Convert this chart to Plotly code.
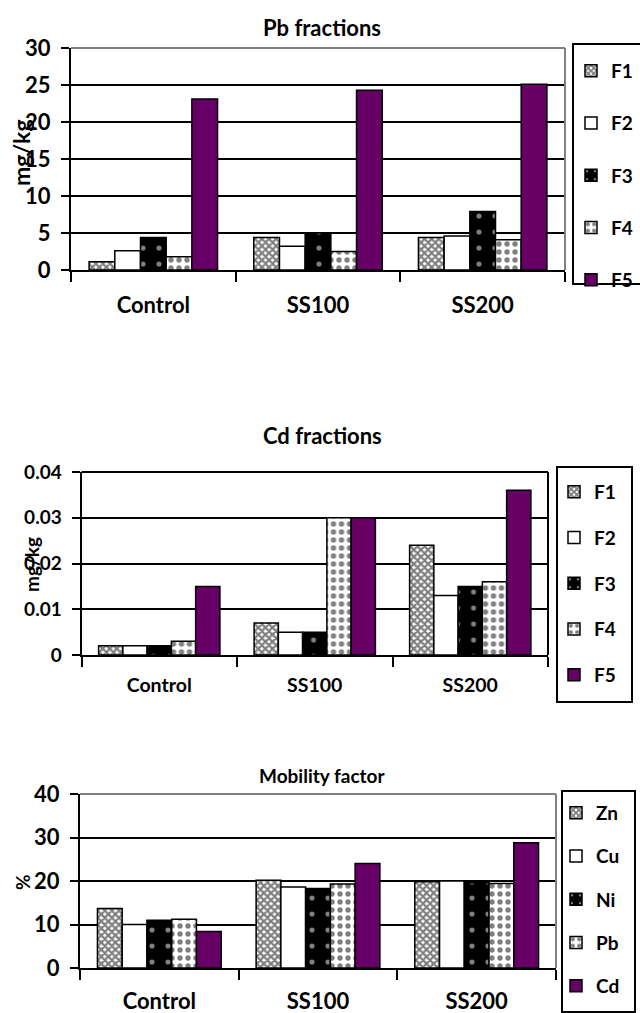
import plotly.graph_objects as go

W, H = 640, 1013

# ---- data -------------------------------------------------------------
categories = ["Control", "SS100", "SS200"]

fraction_names = ["F1", "F2", "F3", "F4", "F5"]
pb_f1 = [1.1, 4.4, 4.4]
pb_f2 = [2.6, 3.2, 4.6]
pb_f3 = [4.4, 5.0, 7.9]
pb_f4 = [1.8, 2.5, 4.1]
pb_f5 = [23.1, 24.3, 25.1]

cd_f1 = [0.002, 0.007, 0.024]
cd_f2 = [0.002, 0.005, 0.013]
cd_f3 = [0.002, 0.005, 0.015]
cd_f4 = [0.003, 0.030, 0.016]
cd_f5 = [0.015, 0.030, 0.036]

metal_names = ["Zn", "Cu", "Ni", "Pb", "Cd"]
mf_zn = [13.7, 20.2, 19.8]
mf_cu = [10.0, 18.6, 20.0]
mf_ni = [11.0, 18.3, 19.6]
mf_pb = [11.2, 19.3, 19.4]
mf_cd = [8.4, 24.0, 28.8]

# ---- styling ----------------------------------------------------------
FONT = "Lato"
PURPLE = "#660066"
GREY = "#808080"

fills = [
    dict(color="white", pattern=dict(shape="x", fgcolor="black", bgcolor="white", size=5, solidity=0.7)),
    dict(color="white"),
    dict(color="black", pattern=dict(shape=".", fgcolor="white", bgcolor="black", size=16, solidity=0.08)),
    dict(color="white", pattern=dict(shape=".", fgcolor="black", bgcolor="white", size=8, solidity=0.35)),
    dict(color=PURPLE),
]


def px_x(v):
    return v / W


def px_y(v):
    return 1 - v / H


panels = [
    dict(title="Pb fractions", ytitle="mg/kg", names=fraction_names,
         series=[pb_f1, pb_f2, pb_f3, pb_f4, pb_f5],
         x=(71, 565), y=(48, 270), yrange=[0, 30], dtick=5,
         title_y=27, title_size=22, tick_size=22, cat_size=22, leg_size=19,
         ytitle_xy=(21, 153), ytitle_size=23, border=GREY,
         legend_box=(573, 44, 648, 284), legend_x=571, legend_y=52, leg_gap=24.5,
         xstand=15),
    dict(title="Cd fractions", ytitle="mg/kg", names=fraction_names,
         series=[cd_f1, cd_f2, cd_f3, cd_f4, cd_f5],
         x=(81.5, 548), y=(472, 655), yrange=[0, 0.04], dtick=0.01,
         title_y=435, title_size=22, tick_size=19, cat_size=19.5, leg_size=19,
         ytitle_xy=(31, 565), ytitle_size=19, border="black",
         legend_box=(557, 467, 632, 702), legend_x=554, legend_y=473, leg_gap=18,
         xstand=12),
    dict(title="Mobility factor", ytitle="%", names=metal_names,
         series=[mf_zn, mf_cu, mf_ni, mf_pb, mf_cd],
         x=(80, 556), y=(794, 968), yrange=[0, 40], dtick=10,
         title_y=775, title_size=19, tick_size=22, cat_size=22, leg_size=19,
         ytitle_xy=(22, 882), ytitle_size=19, border=GREY,
         legend_box=(562, 791, 635, 1012), legend_x=556, legend_y=794, leg_gap=15.5,
         xstand=13),
]

fig = go.Figure()
layout = dict(
    width=W, height=H,
    margin=dict(l=0, r=0, t=0, b=0, autoexpand=False),
    paper_bgcolor="white", plot_bgcolor="white",
    barmode="group", bargap=0.22, bargroupgap=0,
    font=dict(family=FONT, color="black"),
    annotations=[], shapes=[],
)

for i, p in enumerate(panels, start=1):
    sfx = "" if i == 1 else str(i)
    xa, ya = "x" + sfx, "y" + sfx
    leg = "legend" + sfx
    for k, (name, vals) in enumerate(zip(p["names"], p["series"])):
        fig.add_trace(go.Bar(
            x=categories, y=vals, name=name,
            xaxis=xa, yaxis=ya, legend=leg, legendgroup=f"{i}-{name}",
            marker=dict(line=dict(color="black", width=1.5), **fills[k]),
        ))

    layout["xaxis" + sfx] = dict(
        domain=[px_x(p["x"][0]), px_x(p["x"][1])], anchor=ya,
        type="category", tickson="boundaries", ticks="outside",
        ticklen=10, tickwidth=2, tickcolor="black",
        showline=True, linecolor="black", linewidth=2, showgrid=False,
        tickfont=dict(family=FONT, size=p["cat_size"], weight="bold"),
        ticklabelstandoff=p["xstand"], fixedrange=True,
    )
    layout["yaxis" + sfx] = dict(
        domain=[px_y(p["y"][1]), px_y(p["y"][0])], anchor=xa,
        range=p["yrange"], dtick=p["dtick"], tick0=0,
        ticks="outside", ticklen=8, tickwidth=2, tickcolor="black",
        showline=True, linecolor="black", linewidth=2,
        showgrid=True, gridcolor="black", gridwidth=1.5, zeroline=False,
        tickfont=dict(family=FONT, size=p["tick_size"], weight="bold"),
        ticklabelstandoff=6, fixedrange=True,
    )
    layout[leg] = dict(
        x=px_x(p["legend_x"]), y=px_y(p["legend_y"]),
        xanchor="left", yanchor="top", bgcolor="rgba(0,0,0,0)",
        borderwidth=0, tracegroupgap=p["leg_gap"],
        font=dict(family=FONT, size=p["leg_size"], weight="bold"),
    )

    # chart title and y-axis title
    layout["annotations"].append(dict(
        text=f"<b>{p['title']}</b>", x=px_x(322), y=px_y(p["title_y"]),
        xref="paper", yref="paper", xanchor="center", yanchor="middle",
        showarrow=False, font=dict(family=FONT, size=p["title_size"]),
    ))
    layout["annotations"].append(dict(
        text=f"<b>{p['ytitle']}</b>", x=px_x(p["ytitle_xy"][0]), y=px_y(p["ytitle_xy"][1]),
        xref="paper", yref="paper", xanchor="center", yanchor="middle",
        showarrow=False, textangle=-90, font=dict(family=FONT, size=p["ytitle_size"]),
    ))

    # plot-area border on top/right
    layout["shapes"].append(dict(
        type="line", xref=xa + " domain", yref=ya + " domain",
        x0=0, x1=1, y0=1, y1=1, line=dict(color=p["border"], width=2), layer="above",
    ))
    layout["shapes"].append(dict(
        type="line", xref=xa + " domain", yref=ya + " domain",
        x0=1, x1=1, y0=0, y1=1, line=dict(color=p["border"], width=2), layer="above",
    ))
    # legend frame
    bx0, by0, bx1, by1 = p["legend_box"]
    layout["shapes"].append(dict(
        type="rect", xref="paper", yref="paper",
        x0=px_x(bx0), x1=px_x(bx1), y0=px_y(by1), y1=px_y(by0),
        line=dict(color="black", width=2), fillcolor="rgba(0,0,0,0)",
    ))

fig.update_layout(**layout)
fig.write_html("out.html")
